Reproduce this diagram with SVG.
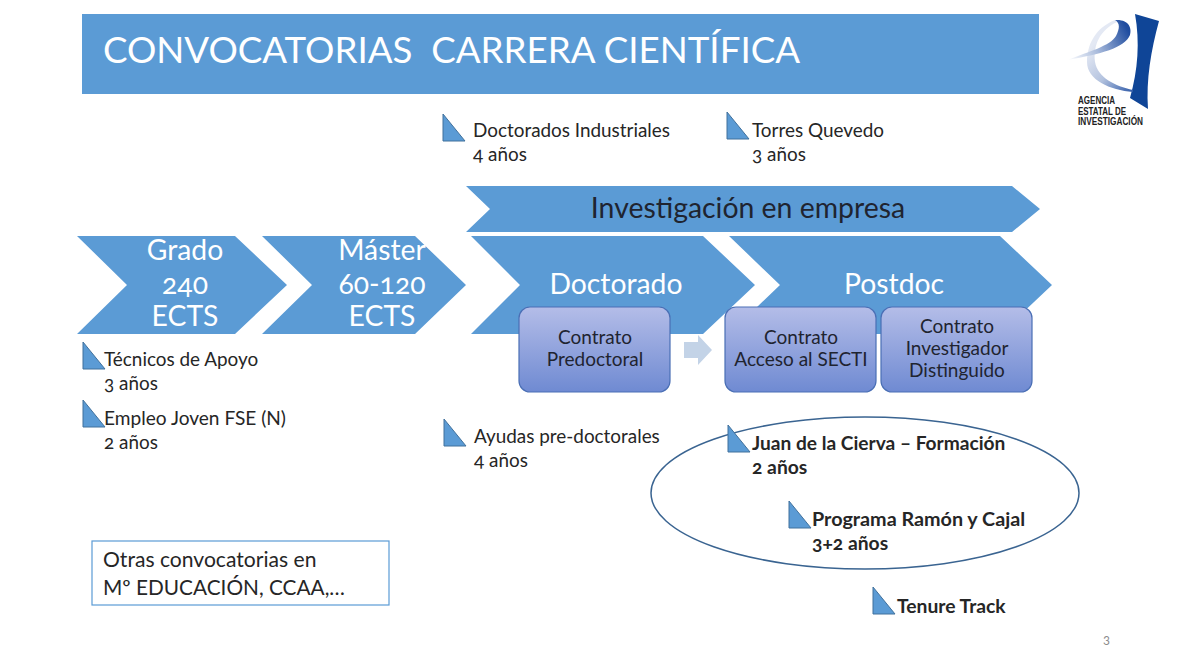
<svg xmlns="http://www.w3.org/2000/svg" width="1200" height="666" viewBox="0 0 1200 666">
<style>
text{font-family:Lato,"Open Sans","Liberation Sans",sans-serif;fill:#262626;font-feature-settings:"onum"}
.ch{fill:#5b9bd5}
.w{fill:#fff;font-size:28.3px;text-anchor:middle}
.tri{fill:#5b9bd5;stroke:#41719c;stroke-width:1}
.l{font-size:18.9px}
.b{font-size:19.3px;font-weight:700}
.box{fill:url(#bx);stroke:#4a6fb5;stroke-width:1.2}
.c{font-size:19px;text-anchor:middle;fill:#1f2430}
.lg{font-family:"Liberation Sans",sans-serif;font-size:10px;font-weight:700;fill:#222}
</style>
<defs>
<linearGradient id="bx" x1="0" y1="0" x2="0" y2="1"><stop offset="0" stop-color="#b4bde8"/><stop offset="1" stop-color="#6f8ad2"/></linearGradient>
<linearGradient id="e" gradientUnits="userSpaceOnUse" x1="1068" y1="60" x2="1128" y2="30"><stop offset="0" stop-color="#fff"/><stop offset="0.45" stop-color="#a9bbdc"/><stop offset="1" stop-color="#1f4c9f"/></linearGradient>
<linearGradient id="e2" gradientUnits="userSpaceOnUse" x1="1088" y1="50" x2="1133" y2="92"><stop offset="0" stop-color="#e4e9f4"/><stop offset="0.5" stop-color="#b4c3df"/><stop offset="1" stop-color="#2f5aa8"/></linearGradient>
<polygon id="t" class="tri" points="0,0 0,27 22,27"/>
</defs>
<rect width="1200" height="666" fill="#fff"/>
<g id="title"><rect x="82" y="14" width="957" height="80" fill="#5b9bd5"/>
<text x="103" y="63" style="fill:#fff;font-size:36.7px;white-space:pre">CONVOCATORIAS  CARRERA CIENTÍFICA</text></g>
<g id="logo">
<path d="M1135 14L1159 21C1151 50 1146 80 1148 109L1130 98C1138 70 1140 42 1135 14Z" fill="#0f4597"/>
<path d="M1115 20C1095 28 1087 45 1087 62C1087 80 1110 90 1133 92L1133 90C1115 86 1098 78 1095 62C1093 45 1100 30 1117 22Z" fill="url(#e2)"/>
<path d="M1115 20C1129 19 1132 28 1130 35C1125 48 1100 54 1068 60C1090 51 1110 46 1116 36C1120 28 1120 23 1115 20Z" fill="url(#e)"/>
<text class="lg" x="1078" y="104" textLength="37" lengthAdjust="spacingAndGlyphs">AGENCIA</text>
<text class="lg" x="1078" y="114.500" textLength="48" lengthAdjust="spacingAndGlyphs">ESTATAL DE</text>
<text class="lg" x="1078" y="125" textLength="65" lengthAdjust="spacingAndGlyphs">INVESTIGACIÓN</text>
</g>
<g id="connectors">
<path id="arrow" d="M684 342H698V335L712 350L698 365V358H684Z" fill="#c3d3e7"/>
</g>
<g id="investigacion"><polygon class="ch" points="466,186 1012,186 1040,209 1012,232 466,232 490,209"/>
<text x="748" y="218" style="font-size:28.4px;text-anchor:middle;fill:#1f2430">Investigación en empresa</text></g>
<g id="grado"><polygon class="ch" points="77,236 235,236 287,285 235,334 77,334 127,285"/>
<text class="w" style="fill:#fff" x="185" y="260">Grado</text><text class="w" style="fill:#fff" x="185" y="294">240</text><text class="w" style="fill:#fff" x="185" y="326">ECTS</text></g>
<g id="master"><polygon class="ch" points="262,236 415,236 466,285 415,334 262,334 312,285"/>
<text class="w" style="fill:#fff" x="382" y="260">Máster</text><text class="w" style="fill:#fff" x="382" y="294">60-120</text><text class="w" style="fill:#fff" x="382" y="326">ECTS</text></g>
<g id="doctorado"><polygon class="ch" points="471,236 703,236 755,285 703,334 471,334 520,285"/>
<text class="w" style="fill:#fff" x="616" y="294">Doctorado</text></g>
<g id="postdoc"><polygon class="ch" points="729,236 1000,236 1052,285 1000,334 729,334 780,285"/>
<text class="w" style="fill:#fff" x="894" y="294">Postdoc</text></g>
<g id="predoctoral"><rect class="box" x="519" y="307" width="151" height="85" rx="11"/>
<text class="c" x="595" y="344">Contrato</text><text class="c" x="595" y="366">Predoctoral</text></g>
<g id="secti"><rect class="box" x="725" y="307" width="151" height="85" rx="11"/>
<text class="c" x="801" y="344">Contrato</text><text class="c" x="801" y="366">Acceso al SECTI</text></g>
<g id="distinguido"><rect class="box" x="881" y="307" width="151" height="85" rx="11"/>
<text class="c" x="957" y="333">Contrato</text><text class="c" x="957" y="355">Investigador</text><text class="c" x="957" y="377">Distinguido</text></g>
<g id="ellipse"><ellipse cx="865" cy="493" rx="214" ry="76" fill="none" stroke="#3a6491" stroke-width="1.5"/></g>
<g id="doctorados-industriales"><use href="#t" x="443" y="114"/><text class="l" x="473" y="137">Doctorados Industriales</text><text class="l" x="473" y="161">4 años</text></g>
<g id="torres-quevedo"><use href="#t" x="727" y="112"/><text class="l" x="752" y="137">Torres Quevedo</text><text class="l" x="752" y="161">3 años</text></g>
<g id="tecnicos"><use href="#t" x="83" y="342"/><text class="l" x="104" y="366">Técnicos de Apoyo</text><text class="l" x="104" y="390">3 años</text></g>
<g id="empleo"><use href="#t" x="83" y="400"/><text class="l" x="104" y="425" style="font-size:19.1px">Empleo Joven FSE (N)</text><text class="l" x="104" y="449">2 años</text></g>
<g id="ayudas"><use href="#t" x="444" y="419"/><text class="l" x="474" y="443">Ayudas pre-doctorales</text><text class="l" x="474" y="467">4 años</text></g>
<g id="juan"><use href="#t" x="728" y="425"/><text class="b" x="752" y="450" style="font-size:19.15px">Juan de la Cierva – Formación</text><text class="b" x="752" y="474">2 años</text></g>
<g id="ramon"><use href="#t" x="789" y="501"/><text class="b" x="812" y="526" style="font-size:19.75px">Programa Ramón y Cajal</text><text class="b" x="812" y="550">3+2 años</text></g>
<g id="tenure"><use href="#t" x="873" y="587"/><text class="b" x="897" y="613">Tenure Track</text></g>
<g id="otras"><rect x="92" y="541" width="297" height="64" fill="#fff" stroke="#5b9bd5" stroke-width="1.2"/>
<text x="103" y="567" style="font-size:21.1px">Otras convocatorias en</text><text x="103" y="595" style="font-size:20.8px">Mº EDUCACIÓN, CCAA,…</text></g>
<text id="page" x="1103" y="644" style="font-size:13px;fill:#8c8c8c">3</text>
</svg>
